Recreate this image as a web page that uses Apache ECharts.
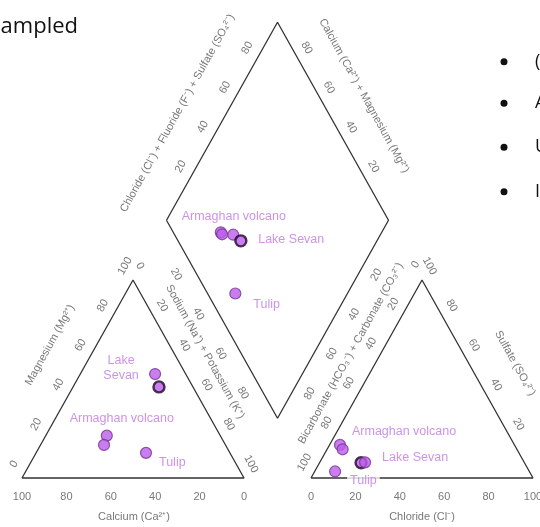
<!DOCTYPE html>
<html>
<head>
<meta charset="utf-8">
<script src="https://cdn.jsdelivr.net/npm/echarts@6/dist/echarts.min.js"></script>
<style>
  html, body { margin: 0; padding: 0; background: #fff; }
  #chart { width: 540px; height: 527px; }
</style>
</head>
<body>
<div id="chart"></div>
<script>
// Water samples, one entry per sample
const sites = ['Armaghan volcano', 'Armaghan volcano', 'Lake Sevan', 'Lake Sevan', 'Tulip'];

// Major cations (% of total meq)
const calcium         = [51.1, 54.7, 13.8, 15.3, 37.8];
const magnesium       = [21.4, 16.7, 52.5, 46.0, 12.7];
const sodiumPotassium = [27.5, 28.6, 33.7, 38.7, 49.5];

// Major anions (% of total meq)
const bicarbonate = [78.6, 78.5, 73.6, 71.7, 87.5];
const chloride    = [4.7, 7.0, 18.7, 20.4, 9.2];
const sulfate     = [16.7, 14.5, 7.7, 7.9, 3.3];

// Tick labels
const triangleTicks = [0, 20, 40, 60, 80, 100];
const diamondTicks = [20, 40, 60, 80];

// ---- Piper geometry (x in triangle side lengths, y in triangle heights) ----
const PX_X = 222, PX_Y = 198;          // pixels per unit
const GAP = 67 / PX_X;                 // space between the two triangles
const X_MIN = -22 / PX_X, X_MAX = (540 - 22) / PX_X;
const Y_MIN = -(527 - 478) / PX_Y, Y_MAX = 478 / PX_Y;
const EDGE_ANGLE = 61;

const shift = (p, dx, dy) => [p[0] + dx / PX_X, p[1] - dy / PX_Y];
const cationPt = (nk, mg) => [nk / 100 + mg / 200, mg / 100];
const anionPt = (cl, so4) => [1 + GAP + cl / 100 + so4 / 200, so4 / 100];
const diamondPt = (nk, clSo4) => {
  const n = nk / 100, a = clSo4 / 100;
  return [(n + a + 1 + GAP) / 2, a + 1 + GAP - n];
};

const FONT = 'Liberation Sans, Arial, sans-serif';
const AXIS_GREY = '#555555';
const SITE_COLOR = '#c277e3';
const POINT_FILL = '#bd5ceb';
const POINT_EDGE = '#74358f';
const HEAVY_EDGE = '#1d0626';

// samples drawn with a heavy dark rim, by panel
const heavyEdge = { cation: [3], anion: [2], diamond: [3] };

// ---- frames ----
function frame(points) {
  return {
    type: 'line', data: points, symbol: 'none', silent: true, z: 1,
    lineStyle: { color: '#333333', width: 1.3 }, animation: false
  };
}

// ---- text placed on the plot ----
function textSeries(items, opts) {
  return {
    type: 'scatter', silent: true, symbolSize: 1, z: opts.z || 3, animation: false,
    itemStyle: { color: 'rgba(0,0,0,0)' },
    data: items,
    label: Object.assign({
      show: true, position: 'inside', formatter: '{b}',
      color: AXIS_GREY, fontSize: 11, fontFamily: FONT,
      align: 'center', verticalAlign: 'middle'
    }, opts.label || {})
  };
}

function ticks(values, edge, dx, dy, rotate) {
  return textSeries(
    values.map(v => ({ name: String(v), value: shift(edge(v), dx, dy) })),
    { label: { rotate: rotate } }
  );
}

function title(text, edge, dx, dy, rotate) {
  return textSeries([{ name: text, value: shift(edge(50), dx, dy) }],
    { label: { rotate: rotate, fontSize: 11 } });
}

// edges, parameterised by the percentage read along them
const edges = {
  mg:        v => cationPt(0, v),
  nkTri:     v => cationPt(v, 100 - v),
  ca:        v => cationPt(100 - v, 0),
  cl:        v => anionPt(v, 0),
  so4:       v => anionPt(100 - v, v),
  hco3Tri:   v => anionPt(0, 100 - v),
  clso4:     v => diamondPt(0, v),
  camg:      v => diamondPt(100 - v, 100),
  nkDia:     v => diamondPt(v, 0),
  hco3Dia:   v => diamondPt(100, 100 - v)
};

// ---- samples ----
function samplePoints(panel, posFn) {
  return {
    type: 'scatter', z: 5, symbol: 'circle', symbolSize: 11, animation: false,
    data: sites.map((s, i) => {
      const heavy = heavyEdge[panel].includes(i);
      return {
        name: s, value: posFn(i),
        itemStyle: {
          color: POINT_FILL,
          borderColor: heavy ? HEAVY_EDGE : POINT_EDGE,
          borderWidth: heavy ? 2.4 : 1.2
        }
      };
    })
  };
}
const cationPos = i => cationPt(sodiumPotassium[i], magnesium[i]);
const anionPos = i => anionPt(chloride[i], sulfate[i]);
const diamondPos = i => diamondPt(sodiumPotassium[i], chloride[i] + sulfate[i]);

// site names, attached to the first sample of each site
const siteLabelPlacement = {
  cation: {
    'Armaghan volcano': { dx: 15, dy: -17, align: 'center' },
    'Lake Sevan':       { dx: -34, dy: -6, align: 'center', text: 'Lake\nSevan' },
    'Tulip':            { dx: 10, dy: 10, align: 'left' }
  },
  diamond: {
    'Armaghan volcano': { dx: 13, dy: -16, align: 'center' },
    'Lake Sevan':       { dx: 22, dy: 5, align: 'left' },
    'Tulip':            { dx: 15, dy: 11, align: 'left' }
  },
  anion: {
    'Armaghan volcano': { dx: 9, dy: -13.5, align: 'left' },
    'Lake Sevan':       { dx: 18, dy: -5, align: 'left' },
    'Tulip':            { dx: 12, dy: 9, align: 'left' }
  }
};
function siteLabels(panel, posFn) {
  const items = [];
  const seen = new Set();
  sites.forEach((s, i) => {
    if (seen.has(s)) return;
    seen.add(s);
    const pl = siteLabelPlacement[panel][s];
    items.push({
      name: pl.text || s,
      value: shift(posFn(i), pl.dx, pl.dy),
      label: { align: pl.align }
    });
  });
  return textSeries(items, {
    z: 6,
    label: {
      color: SITE_COLOR, fontSize: 12.5, lineHeight: 15,
      backgroundColor: '#fff', padding: [0, 3]
    }
  });
}

const series = [
  frame([cationPt(0, 0), cationPt(100, 0), cationPt(0, 100), cationPt(0, 0)]),
  frame([anionPt(0, 0), anionPt(100, 0), anionPt(0, 100), anionPt(0, 0)]),
  frame([diamondPt(0, 0), diamondPt(100, 0), diamondPt(100, 100), diamondPt(0, 100), diamondPt(0, 0)]),

  ticks(triangleTicks, edges.mg, -8, -14, EDGE_ANGLE),
  ticks(triangleTicks, edges.nkTri, 7, -14, -EDGE_ANGLE),
  ticks(triangleTicks, edges.ca, 0, 19, 0),
  ticks(triangleTicks, edges.cl, 0, 19, 0),
  ticks(triangleTicks, edges.so4, 7.5, -14, -EDGE_ANGLE),
  ticks(triangleTicks, edges.hco3Tri, -6.5, -15.5, EDGE_ANGLE),
  ticks(diamondTicks, edges.clso4, -8, -14, EDGE_ANGLE),
  ticks(diamondTicks, edges.camg, 7, -14, -EDGE_ANGLE),
  ticks(diamondTicks, edges.nkDia, -12.5, 14.5, -EDGE_ANGLE),
  ticks(diamondTicks, edges.hco3Dia, 10, 15, EDGE_ANGLE),

  title('Calcium (Ca²⁺)', edges.ca, 1, 38.7, 0),
  title('Chloride (Cl⁻)', edges.cl, 0, 38.7, 0),
  title('Magnesium (Mg²⁺)', edges.mg, -27.5, -34, EDGE_ANGLE),
  title('Sodium (Na⁺) + Potassium (K⁺)', edges.nkTri, 16.5, -27.3, -EDGE_ANGLE),
  title('Chloride (Cl⁻) + Fluoride (F⁻) + Sulfate (SO₄²⁻)', edges.clso4, -44.5, -8, EDGE_ANGLE),
  title('Calcium (Ca²⁺) + Magnesium (Mg²⁺)', edges.camg, 31, -25.5, -EDGE_ANGLE),
  title('Bicarbonate (HCO₃⁻) + Carbonate (CO₃²⁻)', edges.hco3Tri, -15.7, -25.7, EDGE_ANGLE),
  title('Sulfate (SO₄²⁻)', edges.so4, 37.5, -15.7, -EDGE_ANGLE),

  samplePoints('cation', cationPos),
  samplePoints('anion', anionPos),
  samplePoints('diamond', diamondPos),

  siteLabels('cation', cationPos),
  siteLabels('diamond', diamondPos),
  siteLabels('anion', anionPos)
];

const bulletRows = [61.7, 103.3, 147.3, 191.7];
const bulletLead = ['(', 'A', 'U', 'I'];

const chart = echarts.init(document.getElementById('chart'), null, { renderer: 'canvas' });
chart.setOption({
  backgroundColor: '#fff',
  animation: false,
  grid: { left: 0, right: 0, top: 0, bottom: 0, containLabel: false },
  xAxis: { type: 'value', min: X_MIN, max: X_MAX, show: false },
  yAxis: { type: 'value', min: Y_MIN, max: Y_MAX, show: false },
  tooltip: { show: false },
  series: series,
  graphic: [
    {
      type: 'text', silent: true,
      style: { text: 'Sampled', x: 78, y: 27, textAlign: 'right', textVerticalAlign: 'middle',
               font: '22px "Open Sans", sans-serif', fill: '#111' }
    }
  ].concat(bulletRows.map((y, i) => ({
    type: 'group', silent: true,
    children: [
      { type: 'circle', shape: { cx: 504, cy: y, r: 3.5 }, style: { fill: '#111' } },
      { type: 'text', style: { text: bulletLead[i], x: 535, y: y, textVerticalAlign: 'middle',
        font: '18px "Open Sans", sans-serif', fill: '#111' } }
    ]
  })))
});
</script>
</body>
</html>
